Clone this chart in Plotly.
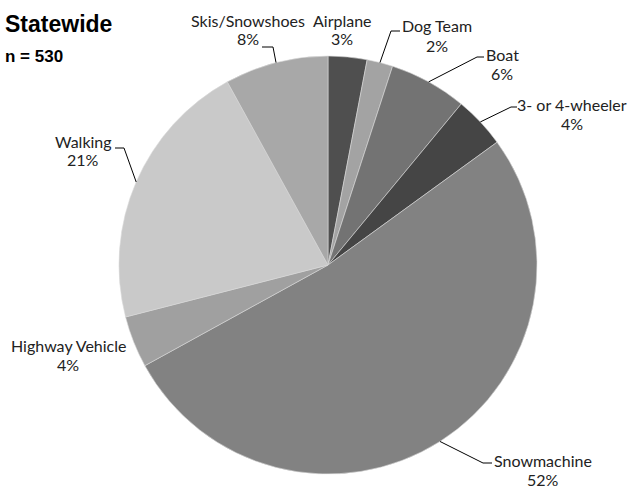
import math
import plotly.graph_objects as go

# ---- data ----
categories = ["Airplane", "Dog Team", "Boat", "3- or 4-wheeler", "Snowmachine",
              "Highway Vehicle", "Walking", "Skis/Snowshoes"]
shares = [3, 2, 6, 4, 52, 4, 21, 8]
title_text = "Statewide"
n_text = "n = 530"

# ---- style ----
W, H = 631, 489
colors = ["#4f4f4f", "#a3a3a3", "#737373", "#454545", "#828282",
          "#a0a0a0", "#c9c9c9", "#a8a8a8"]
CX, CY, R = 328, 265, 209  # pie centre / radius in px (layout)
FONT = "Lato"
FS = 16
# label placement per category: (text centre x, first line centre y, elbow x, elbow y, line end x)
label_style = {
    "Airplane": (342, 20, None, None, None),
    "Dog Team": (437, 26, 391, 31, 400),
    "Boat": (502, 54, 477, 57, 484),
    "3- or 4-wheeler": (572, 104, 511, 107, 517),
    "Snowmachine": (543, 460, 483, 463, 492),
    "Highway Vehicle": (68, 345, None, None, None),
    "Walking": (83, 141, 124, 148, 115),
    "Skis/Snowshoes": (248, 20, 273, 47, 262),
}
LINE_GAP = 19


def px(x):
    return x / W


def py(y):
    return 1 - y / H


fig = go.Figure(go.Pie(
    labels=categories, values=shares, sort=False, direction="clockwise",
    rotation=0, textinfo="none", hoverinfo="label+percent",
    marker=dict(colors=colors, line=dict(color="#d9d9d9", width=0.6)),
    domain=dict(x=[px(CX - R), px(CX + R)], y=[py(CY + R), py(CY - R)]),
    showlegend=False,
))

annotations = []
shapes = []
total = sum(shares)
cum = 0
for cat, v in zip(categories, shares):
    mid = (cum + v / 2) / total * 2 * math.pi
    cum += v
    ex = CX + R * math.sin(mid)
    ey = CY - R * math.cos(mid)
    tx, ty, elx, ely, endx = label_style[cat]
    pct = f"{round(v / total * 100)}%"
    for i, t in enumerate([cat, pct]):
        annotations.append(dict(
            text=t, x=px(tx), y=py(ty + i * LINE_GAP), xref="paper", yref="paper",
            xanchor="center", yanchor="middle", showarrow=False,
            font=dict(family=FONT, size=FS, color="#222222")))
    if elx is not None:
        shapes.append(dict(
            type="path", xref="paper", yref="paper",
            path=f"M {px(endx)} {py(ely)} L {px(elx)} {py(ely)} L {px(ex)} {py(ey)}",
            line=dict(color="#000000", width=1)))

annotations.append(dict(
    text=f"<b>{title_text}</b>", x=px(3), y=py(24), xref="paper", yref="paper",
    xanchor="left", yanchor="middle", showarrow=False,
    font=dict(family="Liberation Sans", size=23, color="#000000")))
annotations.append(dict(
    text=f"<b>{n_text}</b>", x=px(3), y=py(56), xref="paper", yref="paper",
    xanchor="left", yanchor="middle", showarrow=False,
    font=dict(family="Liberation Sans", size=17, color="#000000")))

fig.update_layout(
    width=W, height=H, margin=dict(l=0, r=0, t=0, b=0),
    paper_bgcolor="white", plot_bgcolor="white",
    annotations=annotations, shapes=shapes,
)

fig.write_html("out.html", config={"displayModeBar": False},
               post_script="document.body.style.margin='0';document.body.style.padding='0';")
